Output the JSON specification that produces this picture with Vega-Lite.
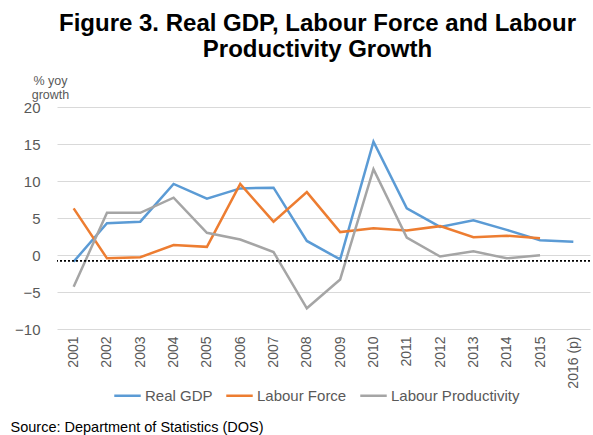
{
  "$schema": "https://vega.github.io/schema/vega-lite/v6.json",
  "width": 533,
  "height": 222,
  "autosize": {"type": "none"},
  "padding": {"left": 57, "top": 107, "right": 3, "bottom": 106},
  "background": "white",
  "config": {
    "view": {"stroke": null},
    "font": "Liberation Sans"
  },
  "title": {
    "text": ["Figure 3. Real GDP, Labour Force and Labour", "Productivity Growth"],
    "font": "Liberation Sans",
    "fontSize": 24,
    "fontWeight": "bold",
    "color": "black",
    "anchor": "middle",
    "frame": "group",
    "lineHeight": 26,
    "offset": 12,
    "dx": -6
  },
  "data": {
    "values": [
      {"year": "2001", "series": "Real GDP", "value": -0.9},
      {"year": "2002", "series": "Real GDP", "value": 4.3},
      {"year": "2003", "series": "Real GDP", "value": 4.5},
      {"year": "2004", "series": "Real GDP", "value": 9.6},
      {"year": "2005", "series": "Real GDP", "value": 7.6},
      {"year": "2006", "series": "Real GDP", "value": 9.0},
      {"year": "2007", "series": "Real GDP", "value": 9.1},
      {"year": "2008", "series": "Real GDP", "value": 1.9},
      {"year": "2009", "series": "Real GDP", "value": -0.6},
      {"year": "2010", "series": "Real GDP", "value": 15.3},
      {"year": "2011", "series": "Real GDP", "value": 6.3},
      {"year": "2012", "series": "Real GDP", "value": 3.8},
      {"year": "2013", "series": "Real GDP", "value": 4.7},
      {"year": "2014", "series": "Real GDP", "value": 3.4},
      {"year": "2015", "series": "Real GDP", "value": 2.0},
      {"year": "2016 (p)", "series": "Real GDP", "value": 1.8},
      {"year": "2001", "series": "Labour Force", "value": 6.3},
      {"year": "2002", "series": "Labour Force", "value": -0.45},
      {"year": "2003", "series": "Labour Force", "value": -0.3},
      {"year": "2004", "series": "Labour Force", "value": 1.35},
      {"year": "2005", "series": "Labour Force", "value": 1.1},
      {"year": "2006", "series": "Labour Force", "value": 9.6},
      {"year": "2007", "series": "Labour Force", "value": 4.5},
      {"year": "2008", "series": "Labour Force", "value": 8.5},
      {"year": "2009", "series": "Labour Force", "value": 3.1},
      {"year": "2010", "series": "Labour Force", "value": 3.6},
      {"year": "2011", "series": "Labour Force", "value": 3.3},
      {"year": "2012", "series": "Labour Force", "value": 3.9},
      {"year": "2013", "series": "Labour Force", "value": 2.4},
      {"year": "2014", "series": "Labour Force", "value": 2.6},
      {"year": "2015", "series": "Labour Force", "value": 2.25},
      {"year": "2001", "series": "Labour Productivity", "value": -4.3},
      {"year": "2002", "series": "Labour Productivity", "value": 5.7},
      {"year": "2003", "series": "Labour Productivity", "value": 5.7},
      {"year": "2004", "series": "Labour Productivity", "value": 7.75},
      {"year": "2005", "series": "Labour Productivity", "value": 3.0},
      {"year": "2006", "series": "Labour Productivity", "value": 2.1},
      {"year": "2007", "series": "Labour Productivity", "value": 0.4},
      {"year": "2008", "series": "Labour Productivity", "value": -7.2},
      {"year": "2009", "series": "Labour Productivity", "value": -3.3},
      {"year": "2010", "series": "Labour Productivity", "value": 11.6},
      {"year": "2011", "series": "Labour Productivity", "value": 2.35},
      {"year": "2012", "series": "Labour Productivity", "value": -0.2},
      {"year": "2013", "series": "Labour Productivity", "value": 0.5},
      {"year": "2014", "series": "Labour Productivity", "value": -0.45},
      {"year": "2015", "series": "Labour Productivity", "value": -0.05}
    ]
  },
  "layer": [
    {
      "mark": {"type": "line", "strokeWidth": 2.5},
      "encoding": {
        "x": {
          "field": "year",
          "type": "nominal",
          "sort": null,
          "scale": {"type": "point", "padding": 0.5},
          "axis": {
            "labelAngle": -90,
            "labelFontSize": 14,
            "labelColor": "#595959",
            "labelPadding": 7,
            "labelOverlap": false,
            "ticks": false,
            "domain": false,
            "grid": false,
            "title": "Source: Department of Statistics (DOS)",
            "titleFontSize": 14.5,
            "titleFontWeight": "normal",
            "titleColor": "black",
            "titleAnchor": "start",
            "titleAlign": "left",
            "titleBaseline": "alphabetic",
            "titleX": -47,
            "titleY": 102
          }
        },
        "y": {
          "field": "value",
          "type": "quantitative",
          "scale": {"domain": [-10, 20], "nice": false},
          "axis": {
            "values": [-10, -5, 0, 5, 10, 15, 20],
            "tickCount": 7,
            "labelOverlap": false,
            "labelFontSize": 15,
            "labelColor": "#595959",
            "labelPadding": 17,
            "ticks": false,
            "domain": false,
            "gridColor": "#d9d9d9",
            "title": ["% yoy", "growth"],
            "titleAngle": 0,
            "titleFontSize": 12.5,
            "titleFontWeight": "normal",
            "titleColor": "#595959",
            "titleAlign": "center",
            "titleBaseline": "alphabetic",
            "titleLineHeight": 14,
            "titleX": -7,
            "titleY": -23
          }
        },
        "color": {
          "field": "series",
          "type": "nominal",
          "scale": {
            "domain": ["Real GDP", "Labour Force", "Labour Productivity"],
            "range": ["#5B9BD5", "#ED7D31", "#A5A5A5"]
          },
          "legend": {
            "title": null,
            "orient": "none",
            "direction": "horizontal",
            "legendX": 56,
            "legendY": 274,
            "symbolType": "stroke",
            "symbolSize": 700,
            "symbolStrokeWidth": 2.5,
            "labelFontSize": 15,
            "labelColor": "#595959",
            "labelOffset": 3,
            "columnPadding": 8
          }
        }
      }
    },
    {
      "data": {"values": [{"level": -0.8}]},
      "mark": {"type": "rule", "color": "black", "strokeDash": [2, 2], "strokeWidth": 1.8},
      "encoding": {
        "y": {
          "field": "level",
          "type": "quantitative",
          "axis": {
            "values": [-10, -5, 0, 5, 10, 15, 20],
            "tickCount": 7,
            "labelOverlap": false
          }
        }
      }
    }
  ]
}
